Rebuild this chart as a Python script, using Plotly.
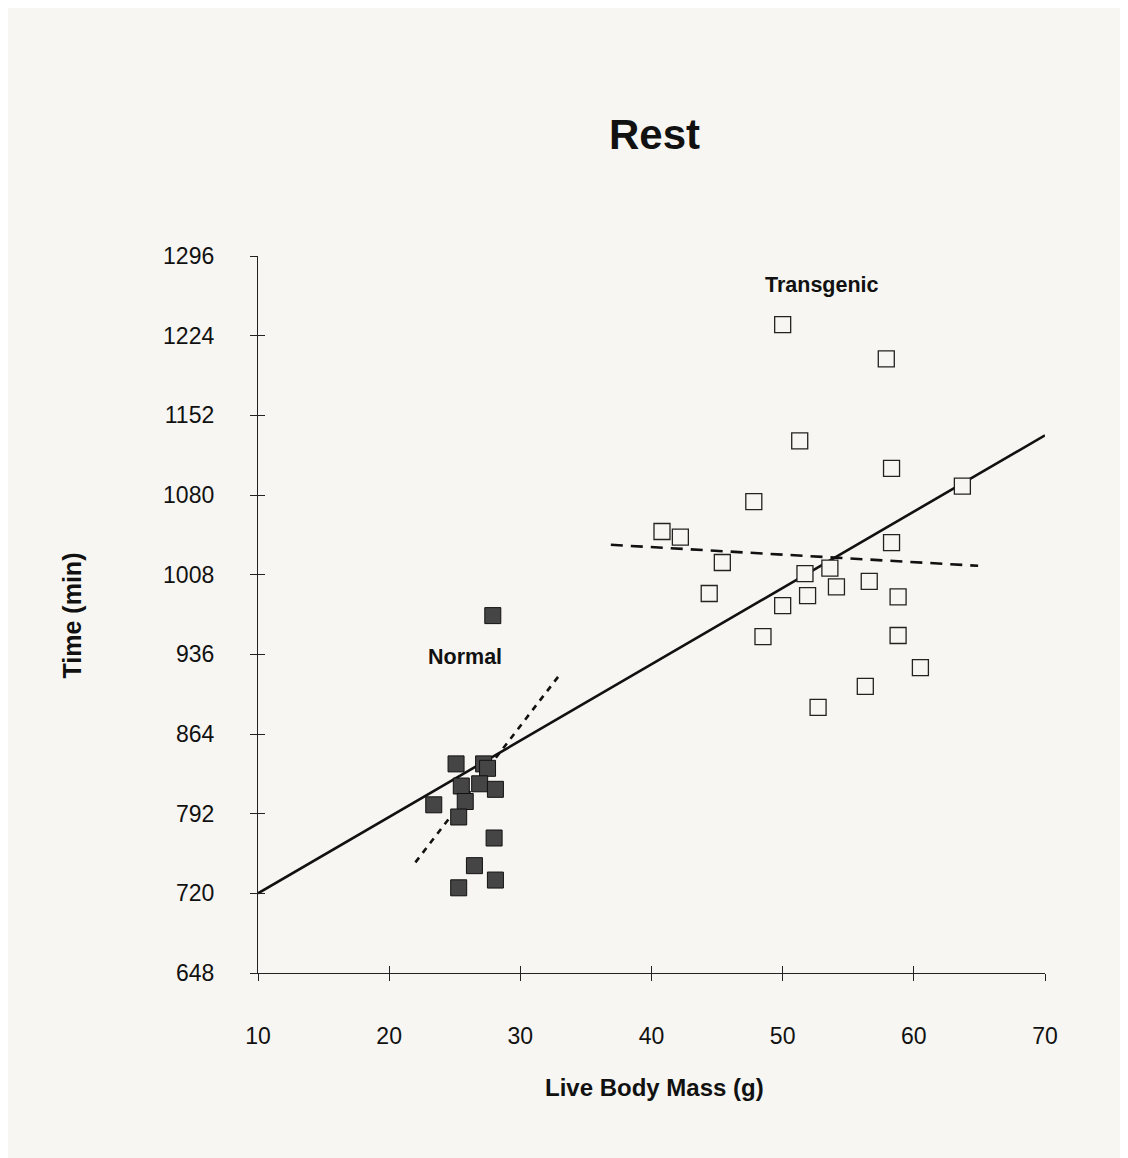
import plotly.graph_objects as go

# Normal (filled squares)
normal_x = [25.1, 27.2, 27.5, 25.5, 26.9, 28.1, 23.4, 25.8, 25.3, 28.0, 26.5, 28.1, 25.3, 27.9]
normal_y = [837, 837, 833, 817, 819, 814, 800, 803, 789, 770, 745, 732, 725, 971]

# Transgenic (open squares)
trans_x = [47.8, 40.8, 42.2, 45.4, 44.4, 51.7, 53.6, 58.3, 51.9, 54.1, 56.6, 58.8,
           50.0, 48.5, 58.8, 60.5, 56.3, 52.7, 50.0, 57.9, 51.3, 58.3, 63.7]
trans_y = [1074, 1047, 1042, 1019, 991, 1009, 1014, 1037, 989, 997, 1002, 988,
           980, 952, 953, 924, 907, 888, 1234, 1203, 1129, 1104, 1088]

# Regression lines (endpoints)
all_fit_x = [10, 70]
all_fit_y = [720, 1134]
normal_fit_x = [22.0, 32.9]
normal_fit_y = [748, 916]
trans_fit_x = [36.9, 64.9]
trans_fit_y = [1035, 1016]

x_ticks = [10, 20, 30, 40, 50, 60, 70]
y_ticks = [648, 720, 792, 864, 936, 1008, 1080, 1152, 1224, 1296]

FONT = "Liberation Sans, Arial, sans-serif"
BG = "#f7f6f2"

fig = go.Figure()
fig.add_trace(go.Scatter(x=all_fit_x, y=all_fit_y, mode="lines",
                         line=dict(color="#111", width=2.6), showlegend=False))
fig.add_trace(go.Scatter(x=normal_fit_x, y=normal_fit_y, mode="lines",
                         line=dict(color="#111", width=2.6, dash="6px,6px"), showlegend=False))
fig.add_trace(go.Scatter(x=trans_fit_x, y=trans_fit_y, mode="lines",
                         line=dict(color="#111", width=2.6, dash="12px,8px"), showlegend=False))
fig.add_trace(go.Scatter(x=normal_x, y=normal_y, mode="markers",
                         marker=dict(symbol="square", size=16, color="#454545",
                                     line=dict(color="#111", width=1)),
                         showlegend=False))
fig.add_trace(go.Scatter(x=trans_x, y=trans_y, mode="markers",
                         marker=dict(symbol="square", size=16, color=BG,
                                     line=dict(color="#222", width=1.3)),
                         showlegend=False))
# invisible trace for overlay axes (inner half of crossing ticks)
fig.add_trace(go.Scatter(x=[x_ticks[0]], y=[y_ticks[0]], xaxis="x2", yaxis="y2",
                         mode="markers", marker=dict(opacity=0),
                         showlegend=False, hoverinfo="skip"))

axis_common = dict(showgrid=False, zeroline=False, linecolor="#222", linewidth=1.3,
                   tickcolor="#222", tickwidth=1.3, ticklen=7)

fig.update_layout(
    width=1128, height=1158,
    paper_bgcolor=BG, plot_bgcolor=BG,
    margin=dict(l=250, r=91, t=248, b=193),
    font=dict(family=FONT, color="#111"),
    xaxis=dict(range=[10, 70], tickvals=x_ticks, ticks="outside", showline=True,
               tickfont=dict(size=23, family=FONT), ticklabelstandoff=35, **axis_common),
    yaxis=dict(range=[648, 1296], tickvals=y_ticks, ticks="outside", showline=True,
               tickfont=dict(size=23, family=FONT), ticklabelstandoff=31, **axis_common),
    xaxis2=dict(range=[10, 70], tickvals=x_ticks, ticks="inside", showline=False,
                showticklabels=False, overlaying="x", anchor="y", **axis_common),
    yaxis2=dict(range=[648, 1296], tickvals=y_ticks, ticks="inside", showline=False,
                showticklabels=False, overlaying="y", anchor="x", **axis_common),
    annotations=[
        dict(text="<b>Rest</b>", x=0.504, y=1.169, xref="paper", yref="paper",
             xanchor="center", yanchor="middle",
             showarrow=False, font=dict(size=42, family=FONT)),
        dict(text="<b>Live Body Mass (g)</b>", x=0.504, y=-0.160, xref="paper", yref="paper",
             xanchor="center", yanchor="middle",
             showarrow=False, font=dict(size=24, family=FONT)),
        dict(text="<b>Time (min)</b>", x=-0.236, y=0.499, xref="paper", yref="paper",
             xanchor="center", yanchor="middle",
             showarrow=False, textangle=-90, font=dict(size=25, family=FONT)),
        dict(text="<b>Transgenic</b>", x=53.0, y=1270, xref="x", yref="y",
             xanchor="center", yanchor="middle",
             showarrow=False, font=dict(size=21.5, family=FONT)),
        dict(text="<b>Normal</b>", x=25.8, y=934, xref="x", yref="y",
             xanchor="center", yanchor="middle",
             showarrow=False, font=dict(size=21.5, family=FONT)),
    ],
)

fig.write_html("out.html")
